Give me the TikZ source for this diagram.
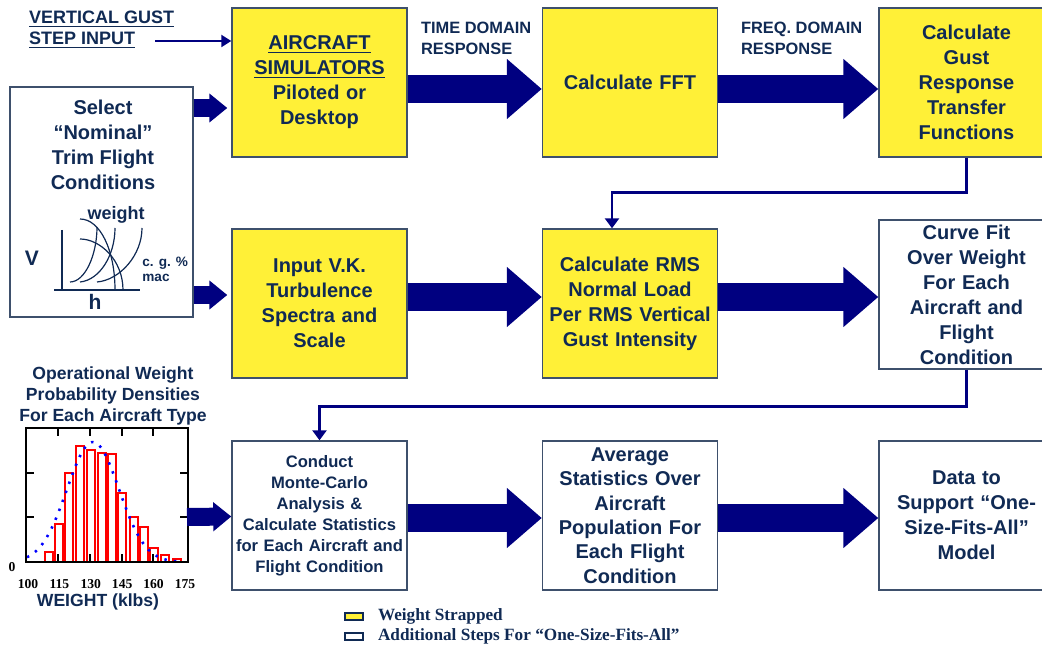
\documentclass[tikz,border=0pt]{standalone}
\usepackage{fontspec}
\setmainfont{Liberation Serif}
\setsansfont{Liberation Sans}
\usetikzlibrary{arrows.meta}
\definecolor{strapyellow}{RGB}{255,240,55}
\definecolor{navytext}{RGB}{16,42,84}
\definecolor{boxline}{RGB}{62,80,108}
\definecolor{arrownavy}{RGB}{0,0,128}
\begin{document}
\begin{tikzpicture}[x=0.5pt, y=-0.5pt,
    stepbox/.style={draw=boxline, line width=0.7pt, minimum width=87.5pt, minimum height=74.5pt,
      inner sep=0pt, text width=86pt, align=center, text=navytext,
      font=\sffamily\bfseries\fontsize{10}{12.5}\selectfont},
    strapped/.style={stepbox, fill=strapyellow},
    extrastep/.style={stepbox, fill=white},
    fatarrow/.style={draw=arrownavy, line width=14pt, -{Triangle[length=17.5pt,width=29pt]}},
    stubarrow/.style={draw=arrownavy, line width=9pt, -{Triangle[length=9pt,width=14pt]}},
    flowline/.style={draw=arrownavy, line width=1.3pt, -{Triangle[length=5pt,width=7pt]}},
    sketch/.style={draw=navytext, line width=0.6pt},
    lbl/.style={text=navytext, align=center}]
  \useasboundingbox (0,0) rectangle (1042,646);
  \clip (0,0) rectangle (1042,646);

  \node[strapped] (sim) at (319.5,82.5) {\underline{AIRCRAFT}\\\underline{SIMULATORS}\\Piloted or\\Desktop};
  \node[strapped] (fft) at (630,82.5) {Calculate FFT};
  \node[strapped] (gust) at (966.5,82.5) {Calculate\\Gust\\Response\\Transfer\\Functions};
  \node[strapped] (vk) at (319.5,303.5) {Input V.K.\\Turbulence\\Spectra and\\Scale};
  \node[strapped] (rms) at (630,303.5) {Calculate RMS\\Normal Load\\Per RMS Vertical\\Gust Intensity};
  \node[extrastep] (curve) at (966.5,294.5) {Curve Fit\\Over Weight\\For Each\\Aircraft and\\Flight\\Condition};
  \node[extrastep, font=\sffamily\bfseries\fontsize{8.3}{10.5}\selectfont] (mc) at (319.5,515.5)
    {Conduct\\Monte-Carlo\\Analysis \&\\Calculate Statistics\\for Each Aircraft and\\Flight Condition};
  \node[extrastep, font=\sffamily\bfseries\fontsize{10}{12.15}\selectfont] (avg) at (630,515.5)
    {Average\\Statistics Over\\Aircraft\\Population For\\Each Flight\\Condition};
  \node[extrastep] (data) at (966.5,515.5) {Data to\\Support “One-\\Size-Fits-All”\\Model};

  \node[draw=boxline, line width=0.7pt, minimum width=91.5pt, minimum height=115pt] (trim) at (101.5,202) {};
  \node[lbl, font=\sffamily\bfseries\fontsize{10}{12.5}\selectfont] (trimtxt) at (103,144.5)
    {Select\\“Nominal”\\Trim Flight\\Conditions};
  \draw[navytext, line width=1pt] (62,230) -- (62,290);
  \draw[navytext, line width=1pt] (54,290) -- (140,290);
  \draw[sketch] (80,219) .. controls (100,219) and (115,250) .. (115,290);
  \draw[sketch] (80,239) .. controls (100,239) and (123,260) .. (123,290);
  \draw[sketch] (70,282) .. controls (85,282) and (97,255) .. (97,227);
  \draw[sketch] (80,282) .. controls (100,280) and (115,255) .. (115,228);
  \draw[sketch] (97,282) .. controls (120,280) and (142,255) .. (142,228);
  \node[lbl, font=\sffamily\bfseries\fontsize{9}{10}\selectfont] (wtlbl) at (116,215) {weight};
  \node[lbl, font=\sffamily\bfseries\fontsize{10.5}{12}\selectfont] (vlbl) at (32,258) {V};
  \node[lbl, font=\sffamily\bfseries\fontsize{10.5}{12}\selectfont] (hlbl) at (95,302) {h};
  \node[lbl, anchor=west, align=left, inner sep=0pt, font=\sffamily\bfseries\fontsize{6.8}{7.5}\selectfont] (cglbl) at (142,269.5)
    {c. g. \%\\mac};

  \node[lbl, anchor=west, align=left, font=\sffamily\bfseries\fontsize{9}{10.5}\selectfont] (gustin) at (22,29.5)
    {\underline{VERTICAL GUST}\\\underline{STEP INPUT}};
  \node[lbl, anchor=west, align=left, font=\sffamily\bfseries\fontsize{8.2}{10.5}\selectfont] (timelbl) at (414,38.5)
    {TIME DOMAIN\\RESPONSE};
  \node[lbl, anchor=west, align=left, font=\sffamily\bfseries\fontsize{8.2}{10.5}\selectfont] (freqlbl) at (734,38.5)
    {FREQ. DOMAIN\\RESPONSE};

  \node[lbl, font=\sffamily\bfseries\fontsize{8.8}{10.5}\selectfont] (histttl) at (113,396)
    {Operational Weight\\Probability Densities\\For Each Aircraft Type};
  \foreach \bx/\bt in {45/552,55/524,65/473,76/446,87/450,98/453,108/454,118/493,130/517,140/527,150/548,161/555,173/559}
    \draw[red, line width=0.9pt, fill=white] (\bx,562) rectangle (\bx+8,\bt);
  \draw[blue, line width=1.3pt, dash pattern=on 1.2pt off 3.6pt]
    plot[domain=27:182, samples=70, smooth] (\x, {562-120/exp(0.5*((\x-93)/26)*((\x-93)/26))});
  \draw[black, line width=1.2pt] (26,428) rectangle (188,562);
  \foreach \tx in {58,90,122,153} {
    \draw[black, line width=1.2pt] (\tx,428) -- (\tx,436);
    \draw[black, line width=1.2pt] (\tx,562) -- (\tx,554);
  }
  \foreach \ty in {473,517} {
    \draw[black, line width=1.2pt] (26,\ty) -- (34,\ty);
    \draw[black, line width=1.2pt] (188,\ty) -- (180,\ty);
  }
  \node[font=\rmfamily\bfseries\fontsize{6.8}{8}\selectfont] (zerolbl) at (12,567) {0};
  \foreach \v in {100,115,130,145,160,175}
    \node[font=\rmfamily\bfseries\fontsize{6.8}{8}\selectfont] (tick\v) at ({28+(\v-100)*2.093},584) {\v};
  \node[lbl, font=\sffamily\bfseries\fontsize{8.8}{10}\selectfont] (weightlbl) at (98,602) {WEIGHT (klbs)};

  \coordinate (gusttail) at (155,41);
  \coordinate (simin) at ([shift={(-2pt,-12.75pt)}]sim.west);
  \coordinate (vkin) at ([shift={(-2pt,4.25pt)}]vk.west);
  \coordinate (histout) at (187,517);
  \draw[draw=arrownavy, line width=1pt, -{Triangle[length=5pt,width=6pt]}] (gusttail) -- (sim.west |- gusttail);
  \draw[stubarrow] (trim.east |- simin) -- (simin);
  \draw[stubarrow] (trim.east |- vkin) -- (vkin);
  \draw[stubarrow] (histout) -- ([yshift=-0.5pt]mc.west);

  \draw[fatarrow] ([yshift=-3.25pt]sim.east) -- ([yshift=-3.25pt]fft.west);
  \draw[fatarrow] ([yshift=-3.25pt]fft.east) -- ([yshift=-3.25pt]gust.west);
  \draw[fatarrow] ([yshift=3.25pt]vk.east) -- ([yshift=3.25pt]rms.west);
  \draw[fatarrow] ([yshift=3.25pt]rms.east) -- ([yshift=-1.25pt]curve.west);
  \draw[fatarrow] ([yshift=-1.25pt]mc.east) -- ([yshift=-1.25pt]avg.west);
  \draw[fatarrow] ([yshift=-1.25pt]avg.east) -- ([yshift=-1.25pt]data.west);

  \draw[flowline] (gust.south) -- ++(0,35) -| ([xshift=-9pt]rms.north);
  \draw[flowline] (curve.south) -- ++(0,37) -| (mc.north);

  \draw[draw=navytext, line width=0.6pt, fill=strapyellow] (345,613) rectangle (363,620);
  \draw[draw=navytext, line width=0.6pt, fill=white] (345,633) rectangle (363,640);
  \node[lbl, anchor=west, font=\rmfamily\bfseries\fontsize{8.6}{10}\selectfont] (legstrap) at (371,616) {Weight Strapped};
  \node[lbl, anchor=west, font=\rmfamily\bfseries\fontsize{8.6}{10}\selectfont] (legextra) at (371,636)
    {Additional Steps For “One-Size-Fits-All”};
\end{tikzpicture}
\end{document}
